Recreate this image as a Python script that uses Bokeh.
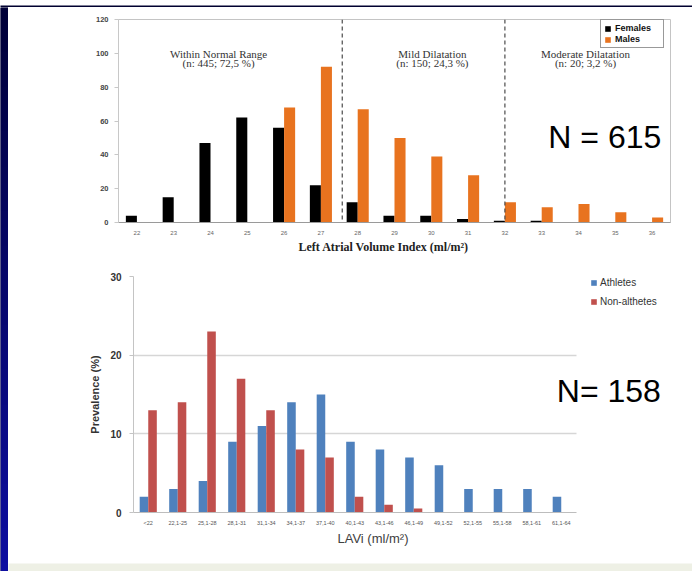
import numpy as np
from bokeh.plotting import figure
from bokeh.models import Range1d, Span, Label, ColumnDataSource, FactorRange, Title
from bokeh.transform import dodge
from bokeh.layouts import column, row
from bokeh.core.properties import value
from bokeh.embed import file_html
from bokeh.resources import INLINE

# ---- Upper panel: left atrial volume index by sex (n = 615) ----
lavi_values = ["22", "23", "24", "25", "26", "27", "28", "29",
               "30", "31", "32", "33", "34", "35", "36"]
females = [4, 15, 47, 62, 56, 22, 12, 4, 4, 2, 1, 1, 0, 0, 0]
males = [0, 0, 0, 0, 68, 92, 67, 50, 39, 28, 12, 9, 11, 6, 3]
region_names = ["Within Normal Range", "Mild Dilatation", "Moderate Dilatation"]
region_counts = ["(n: 445; 72,5 %)", "(n: 150; 24,3 %)", "(n: 20; 3,2 %)"]
upper_ticks = [0, 20, 40, 60, 80, 100, 120]

# ---- Lower panel: LAVi prevalence, athletes vs non-athletes (n = 158) ----
lavi_bins = ["<22", "22,1-25", "25,1-28", "28,1-31", "31,1-34", "34,1-37",
             "37,1-40", "40,1-43", "43,1-46", "46,1-49", "49,1-52",
             "52,1-55", "55,1-58", "58,1-61", "61,1-64"]
athletes = [2, 3, 4, 9, 11, 14, 15, 9, 8, 7, 6, 3, 3, 3, 2]
non_athletes = [13, 14, 23, 17, 13, 8, 7, 2, 1, 0.5, 0, 0, 0, 0, 0]
lower_ticks = [0, 10, 20, 30]

SANS = "Liberation Sans"
SERIF = "Liberation Serif"
NAVY = "#000030"

# ---------------------------------------------------------------- upper chart
p1 = figure(width=684, height=248, x_range=lavi_values, y_range=Range1d(0, 120),
            output_backend="svg", toolbar_location=None, frame_align=False,
            min_border_left=110, min_border_right=22,
            min_border_top=12, min_border_bottom=33,
            background_fill_color="white", border_fill_color="white",
            outline_line_color="#c4c4c4")

src1 = ColumnDataSource(dict(v=lavi_values, f=females, m=males))
p1.vbar(x=dodge("v", -0.15, range=p1.x_range), top="f", width=0.3, source=src1,
        fill_color="#000000", line_color=None, legend_label="Females")
p1.vbar(x=dodge("v", 0.15, range=p1.x_range), top="m", width=0.3, source=src1,
        fill_color="#e8731f", line_color=None, legend_label="Males")

# dashed limits between the dilatation classes
b1 = lavi_values.index("28") + 0.08
b2 = lavi_values.index("32") + 0.5
for loc in (b1, b2):
    p1.add_layout(Span(location=loc, dimension="height", line_color="#4a4a4a",
                       line_dash="4 3", line_width=1.2))

region_x = [2.72, 8.53, 12.69]
p1.text(x=region_x, y=[99.6] * 3, text=region_names, text_align="center",
        text_baseline="middle", text_font=value(SERIF), text_font_size="11px",
        text_color="#333333")
p1.text(x=region_x, y=[94.2] * 3, text=region_counts, text_align="center",
        text_baseline="middle", text_font=value(SERIF), text_font_size="11px",
        text_color="#333333")

p1.add_layout(Label(x=11.68, y=50.8, text="N = 615", text_font=SANS,
                    text_font_size="32px", text_color="#000000",
                    text_baseline="middle", text_align="left"))

p1.xgrid.visible = False
p1.ygrid.visible = False

xa = p1.xaxis[0]
xa.axis_line_color = "#9a9a9a"
xa.major_tick_line_color = None
xa.minor_tick_line_color = None
xa.major_label_text_font = SANS
xa.major_label_text_font_size = "6px"
xa.major_label_text_color = "#666666"
xa.major_label_standoff = 2

p1.add_layout(Title(text="Left Atrial Volume Index (ml/m²)", align="left", offset=180,
                    text_font=SERIF, text_font_style="bold", text_font_size="12px",
                    text_color="#222222", standoff=1), "below")

ya = p1.yaxis[0]
ya.ticker = upper_ticks
ya.axis_line_color = "#c8c8c8"
ya.major_tick_line_color = "#c8c8c8"
ya.major_tick_in = 0
ya.major_tick_out = 4
ya.minor_tick_line_color = None
ya.major_label_text_font = SANS
ya.major_label_text_font_style = "bold"
ya.major_label_text_font_size = "7.5px"
ya.major_label_text_color = "#444444"
ya.major_label_standoff = 6

lg1 = p1.legend[0]
lg1.location = (482, 174)
lg1.border_line_color = "#333333"
lg1.border_line_width = 1
lg1.background_fill_color = "white"
lg1.padding = 3
lg1.spacing = 1
lg1.margin = 0
lg1.glyph_width = 7
lg1.glyph_height = 7
lg1.label_height = 10
lg1.label_width = 45
lg1.label_standoff = 4
lg1.label_text_font = SANS
lg1.label_text_font_style = "bold"
lg1.label_text_font_size = "9px"
lg1.label_text_color = "#111111"

# ---------------------------------------------------------------- lower chart
# three empty slots after the bins leave room for the legend and the N label
spare_slots = ["slot_a", "slot_b", "slot_c"]
n_bins = len(lavi_bins)
p2 = figure(width=684, height=306, x_range=FactorRange(*(lavi_bins + spare_slots)),
            y_range=Range1d(0, 30),
            output_backend="svg", toolbar_location=None, frame_align=False,
            min_border_left=125, min_border_right=28,
            min_border_top=21, min_border_bottom=49,
            background_fill_color="white", border_fill_color="white",
            outline_line_color=None)

src2 = ColumnDataSource(dict(b=lavi_bins, a=athletes, n=non_athletes))
p2.vbar(x=dodge("b", -0.145, range=p2.x_range), top="a", width=0.29, source=src2,
        fill_color="#4f81bd", line_color=None, legend_label="Athletes")
p2.vbar(x=dodge("b", 0.145, range=p2.x_range), top="n", width=0.29, source=src2,
        fill_color="#c0504d", line_color=None, legend_label="Non-althetes")

p2.xgrid.visible = False
p2.ygrid.ticker = lower_ticks
p2.ygrid.cross_bounds = (0, n_bins)
p2.ygrid.grid_line_color = "#d6d6d6"
p2.ygrid.grid_line_width = 1.5

xb = p2.xaxis[0]
xb.bounds = (0, n_bins)
xb.major_label_overrides = {s: "" for s in spare_slots}
xb.axis_line_color = "#bdbdbd"
xb.major_tick_line_color = None
xb.minor_tick_line_color = None
xb.major_label_text_font = SANS
xb.major_label_text_font_size = "5.5px"
xb.major_label_text_color = "#555555"
xb.major_label_standoff = 1

p2.add_layout(Title(text="LAVi (ml/m²)", align="left", offset=204,
                    text_font=SANS, text_font_style="normal", text_font_size="13px",
                    text_color="#404040", standoff=0), "below")

yb = p2.yaxis[0]
yb.ticker = lower_ticks
yb.axis_line_color = "#c4c4c4"
yb.major_tick_line_color = "#c4c4c4"
yb.major_tick_in = 0
yb.major_tick_out = 4
yb.minor_tick_line_color = None
yb.major_label_text_font = SANS
yb.major_label_text_font_style = "bold"
yb.major_label_text_font_size = "10px"
yb.major_label_text_color = "#333333"
yb.major_label_standoff = 8
yb.axis_label = "Prevalence (%)"
yb.axis_label_text_font = SANS
yb.axis_label_text_font_style = "bold"
yb.axis_label_text_font_size = "11px"
yb.axis_label_text_color = "#333333"
yb.axis_label_standoff = 6

p2.add_layout(Label(x=14.35, y=15.44, text="N= 158", text_font=SANS,
                    text_font_size="32px", text_color="#000000",
                    text_align="left", text_baseline="middle"))

lg2 = p2.legend[0]
lg2.location = (457, 205)
lg2.border_line_color = None
lg2.background_fill_color = None
lg2.background_fill_alpha = 0
lg2.padding = 0
lg2.margin = 0
lg2.spacing = 8
lg2.glyph_width = 7
lg2.glyph_height = 7
lg2.label_height = 10
lg2.label_width = 10
lg2.label_standoff = 3
lg2.label_text_font = SANS
lg2.label_text_font_size = "10px"
lg2.label_text_color = "#333333"

# ---------------------------------------------------------------- slide frame
def band(w, h, color):
    b = figure(width=w, height=h, x_range=(0, 1), y_range=(0, 1),
               output_backend="svg", toolbar_location=None, min_border=0,
               frame_align=False,
               x_axis_location=None, y_axis_location=None,
               background_fill_color=color, border_fill_color=color,
               outline_line_color=None)
    b.grid.visible = False
    return b

top_band = band(692, 7, NAVY)
bottom_band = band(684, 10, "#eef0e5")

# left edge: dark navy fading into blue towards the bottom
left_strip = band(8, 564, NAVY)
n = 64
grad = np.zeros((n, 1), dtype=np.uint32)
rgba = grad.view(dtype=np.uint8).reshape((n, 1, 4))
top_c = np.array([0, 0, 56])
bot_c = np.array([14, 14, 160])
for i in range(n):
    t = i / (n - 1)
    c = bot_c * (1 - t) + top_c * t
    rgba[i, 0, :3] = c.astype(np.uint8)
    rgba[i, 0, 3] = 255
left_strip.image_rgba(image=[grad], x=0, y=0, dw=1, dh=1)

layout = column(top_band, row(left_strip, column(p1, p2, bottom_band)))

open("out.html", "w").write(file_html(layout, INLINE))
